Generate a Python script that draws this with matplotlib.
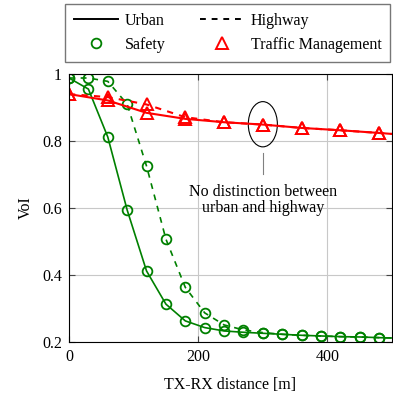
import matplotlib
matplotlib.use("Agg")
import matplotlib.pyplot as plt
from matplotlib.lines import Line2D
from matplotlib.patches import Ellipse

plt.rcParams['font.family'] = ['Liberation Serif', 'DejaVu Serif']
plt.rcParams['font.size'] = 11.5

# safety, sampled every 30 m
x_safety = [0, 30, 60, 90, 120, 150, 180, 210, 240, 270, 300, 330, 360, 390, 420, 450, 480, 500]
safety_urban = [0.988, 0.955, 0.812, 0.594, 0.412, 0.313, 0.263, 0.243, 0.233, 0.229, 0.226, 0.223,
                0.220, 0.218, 0.216, 0.215, 0.213, 0.212]
safety_highway = [0.988, 0.988, 0.978, 0.910, 0.725, 0.507, 0.363, 0.287, 0.251, 0.236, 0.228, 0.223,
                  0.220, 0.218, 0.216, 0.215, 0.213, 0.212]

# traffic management, sampled every 60 m
x_tm = [0, 60, 120, 180, 240, 300, 360, 420, 480, 500]
tm_urban = [0.940, 0.921, 0.884, 0.866, 0.856, 0.849, 0.839, 0.832, 0.824, 0.821]
tm_highway = [0.940, 0.931, 0.909, 0.871, 0.856, 0.849, 0.839, 0.832, 0.824, 0.821]

green = (0, 0.5, 0)
red = (1, 0, 0)

fig = plt.figure(figsize=(3.93, 3.98), dpi=100)
ax = fig.add_axes([0.1756, 0.1407, 0.822, 0.6734])

mk_s = dict(marker='o', markersize=7, markerfacecolor='none', markeredgewidth=1.3, markevery=slice(0, 17))
ax.plot(x_safety, safety_highway, color=green, lw=1.2, linestyle=(0, (3.5, 3.5)), **mk_s)
ax.plot(x_safety, safety_urban, color=green, lw=1.2, **mk_s)

mk_t = dict(marker='^', markersize=9, markerfacecolor='none', markeredgewidth=1.4, markevery=slice(0, 9))
ax.plot(x_tm, tm_highway, color=red, lw=1.5, linestyle=(0, (3, 3)), **mk_t)
ax.plot(x_tm, tm_urban, color=red, lw=1.5, **mk_t)

# annotation
ax.add_patch(Ellipse((300, 0.85), 45, 0.135, fill=False, edgecolor='black', lw=0.8))
ax.plot([300, 300], [0.764, 0.70], color='gray', lw=0.8)
ax.text(300, 0.624, 'No distinction between\nurban and highway', ha='center', va='center',
        linespacing=0.95)

ax.set_xlim(0, 500)
ax.set_ylim(0.2, 1)
ax.set_xticks([0, 200, 400])
ax.set_yticks([0.2, 0.4, 0.6, 0.8, 1.0])
ax.set_yticklabels(['0.2', '0.4', '0.6', '0.8', '1'])
ax.grid(True, color='#c8c8c8', lw=0.8)
ax.set_axisbelow(True)
ax.tick_params(direction='in', top=True, right=True, length=4, width=0.8, color='#444444', pad=5)
for s in ax.spines.values():
    s.set_linewidth(0.8)
ax.set_xlabel('TX-RX distance [m]', labelpad=9)
ax.set_ylabel('VoI', labelpad=6)

handles = [
    Line2D([], [], color='black', lw=1.4),
    Line2D([], [], color='none', marker='o', markersize=7, markerfacecolor='none',
           markeredgecolor=green, markeredgewidth=1.3),
    Line2D([], [], color='black', lw=1.4, linestyle=(0, (3, 3))),
    Line2D([], [], color='none', marker='^', markersize=9, markerfacecolor='none',
           markeredgecolor=red, markeredgewidth=1.4),
]
labels = ['Urban', 'Safety', 'Highway', 'Traffic Management']
leg = fig.legend(handles, labels, ncol=2, loc='upper left', bbox_to_anchor=(0.165, 0.99),
                 frameon=True, fancybox=False, edgecolor='#555555', handlelength=2.8,
                 handletextpad=0.4, columnspacing=2.15, borderpad=0.55, labelspacing=0.5,
                 borderaxespad=0.0)
leg.get_frame().set_linewidth(1.0)

fig.savefig('out.png', dpi=100)
